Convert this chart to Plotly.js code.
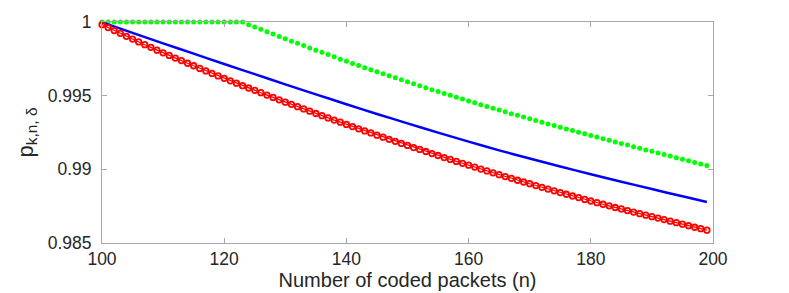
<!DOCTYPE html>
<html>
<head>
<meta charset="utf-8">
<script src="https://cdn.plot.ly/plotly-3.0.1.min.js"></script>
<style>html,body{margin:0;padding:0;background:#fff;}#chart{width:789px;height:293px;}</style>
</head>
<body>
<div id="chart"></div>
<script>
// n values (coded packets)
var nAll = [];
for (var i = 100; i <= 199; i++) nAll.push(i);

// Red series (circle markers), read per n from the picture
var redValues = [
0.99982,0.99962,0.99942,0.99923,0.99903,0.99884,0.99865,0.99846,0.99828,0.99809,
0.99791,0.99773,0.99755,0.99738,0.99720,0.99703,0.99685,0.99668,0.99651,0.99634,
0.99618,0.99601,0.99585,0.99568,0.99552,0.99536,0.99520,0.99504,0.99488,0.99472,
0.99456,0.99441,0.99425,0.99410,0.99395,0.99379,0.99364,0.99349,0.99334,0.99320,
0.99305,0.99290,0.99275,0.99261,0.99247,0.99232,0.99218,0.99204,0.99190,0.99176,
0.99162,0.99148,0.99135,0.99121,0.99107,0.99094,0.99080,0.99067,0.99054,0.99041,
0.99028,0.99015,0.99002,0.98989,0.98976,0.98964,0.98951,0.98939,0.98926,0.98914,
0.98902,0.98890,0.98878,0.98866,0.98854,0.98842,0.98831,0.98819,0.98808,0.98796,
0.98785,0.98774,0.98763,0.98752,0.98741,0.98731,0.98720,0.98710,0.98699,0.98689,
0.98679,0.98669,0.98659,0.98648,0.98638,0.98628,0.98617,0.98607,0.98597,0.98587
];

// Green series (dots), read per n from the picture
var greenValues = [
1,1,1,1,1,1,1,1,1,1,
1,1,1,1,1,1,1,1,1,1,
1,1,1,1,0.99982,0.99966,0.99950,0.99934,0.99918,0.99902,
0.99886,0.99870,0.99855,0.99840,0.99824,0.99809,0.99794,0.99779,0.99764,0.99748,
0.99733,0.99719,0.99704,0.99690,0.99676,0.99662,0.99649,0.99635,0.99621,0.99608,
0.99594,0.99581,0.99567,0.99554,0.99541,0.99528,0.99515,0.99502,0.99489,0.99477,
0.99464,0.99452,0.99439,0.99427,0.99415,0.99402,0.99390,0.99378,0.99367,0.99355,
0.99343,0.99331,0.99320,0.99308,0.99297,0.99286,0.99274,0.99263,0.99252,0.99241,
0.99230,0.99219,0.99208,0.99197,0.99186,0.99175,0.99165,0.99154,0.99143,0.99132,
0.99122,0.99111,0.99100,0.99090,0.99079,0.99068,0.99058,0.99047,0.99037,0.99026
];

// Blue series (solid line), read every 5 n
var blueN = [100,105,110,115,120,125,130,135,140,145,150,155,160,165,170,175,180,185,190,195,199];
var blueValues = [0.99998,0.99926,0.99855,0.99785,0.99715,0.99646,0.99577,0.99509,0.99442,0.99376,
0.99312,0.99249,0.99188,0.99129,0.99073,0.99019,0.98967,0.98916,0.98866,0.98817,0.98778];

var xTicks = [100,120,140,160,180,200];
var yTicks = [0.985,0.99,0.995,1];
var yTickText = ['0.985','0.99','0.995','1'];

var traces = [
  {x: nAll, y: greenValues, mode: 'markers', type: 'scatter', cliponaxis: false,
   marker: {color: '#00ff00', size: 5, symbol: 'circle'}},
  {x: blueN, y: blueValues, mode: 'lines', type: 'scatter', cliponaxis: false,
   line: {color: '#0000ff', width: 2.5, shape: 'spline', smoothing: 0.6}},
  {x: nAll, y: redValues, mode: 'lines+markers', type: 'scatter', cliponaxis: false,
   line: {color: '#ff0000', width: 1.2},
   marker: {color: '#ff0000', size: 5.5, symbol: 'circle-open', line: {color: '#ff0000', width: 1.8}}}
];

var axisCommon = {
  showline: true, mirror: 'ticks', linecolor: '#a8a8a8', linewidth: 1,
  ticks: 'inside', ticklen: 5, tickcolor: '#a8a8a8', tickwidth: 1,
  showgrid: false, zeroline: false,
  tickfont: {family: 'Liberation Sans, Arial, sans-serif', size: 17.5, color: '#262626'}
};

var layout = {
  width: 789, height: 293,
  margin: {l: 102, r: 76, t: 22, b: 50},
  paper_bgcolor: '#ffffff', plot_bgcolor: '#ffffff',
  showlegend: false,
  font: {family: 'Liberation Sans, Arial, sans-serif', color: '#262626'},
  xaxis: Object.assign({}, axisCommon, {
    range: [100, 200], tickvals: xTicks, ticktext: xTicks.map(String),
    title: {text: 'Number of coded packets (n)', font: {size: 20, color: '#262626'}, standoff: 4}
  }),
  yaxis: Object.assign({}, axisCommon, {
    range: [0.985, 1], tickvals: yTicks, ticktext: yTickText, ticklabelstandoff: 6,
    title: {text: 'p<sub>k,n, δ</sub>', font: {size: 22, color: '#262626'}, standoff: 8}
  })
};

Plotly.newPlot('chart', traces, layout, {displayModeBar: false, staticPlot: true});
</script>
</body>
</html>
